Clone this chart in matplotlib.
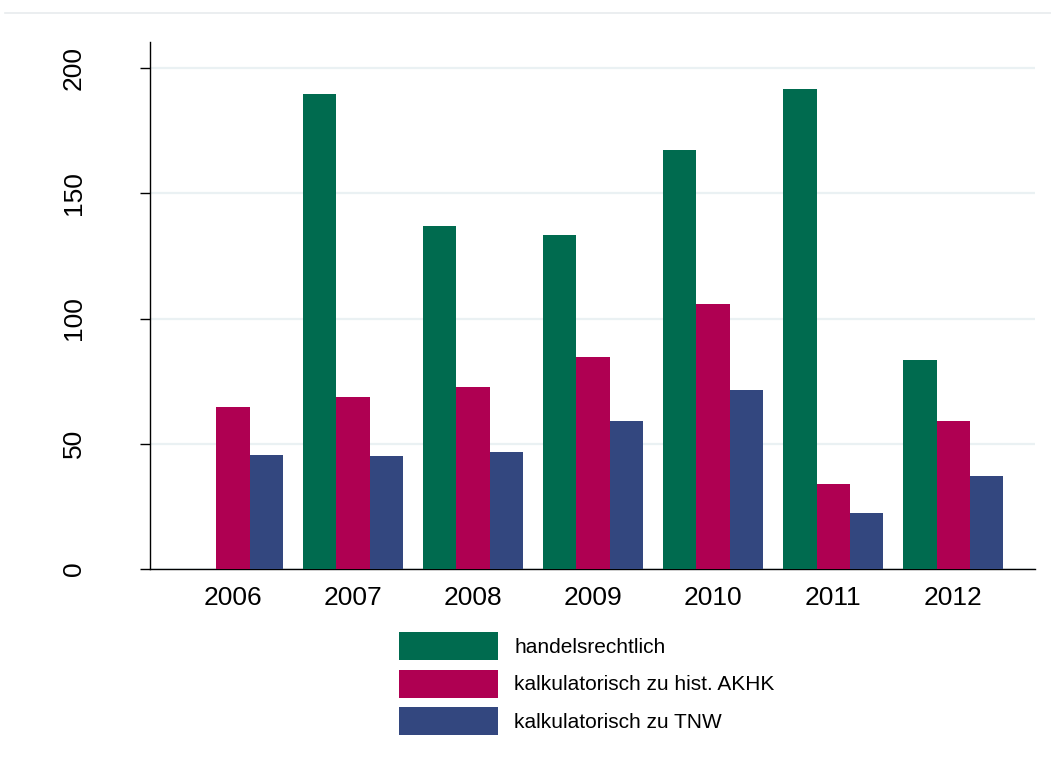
import numpy as np
import matplotlib.pyplot as plt
from matplotlib.lines import Line2D

plt.rcParams.update({
    "font.family": ["Liberation Sans", "DejaVu Sans"],
    "axes.linewidth": 1.0,
})

# Data
years = ["2006", "2007", "2008", "2009", "2010", "2011", "2012"]
handelsrechtlich = [np.nan, 189.5, 137.0, 133.3, 167.3, 191.5, 83.5]
kalk_akhk = [64.7, 68.7, 72.6, 84.6, 105.7, 33.8, 59.0]
kalk_tnw = [45.5, 45.1, 46.6, 59.0, 71.4, 22.3, 37.1]

labels = ["handelsrechtlich", "kalkulatorisch zu hist. AKHK", "kalkulatorisch zu TNW"]
colors = ["#006B4F", "#AF0052", "#33477F"]

fig = plt.figure(figsize=(10.51, 7.77), dpi=100)
ax = fig.add_axes([150 / 1051, 1 - 569 / 777, (1035 - 150) / 1051, (569 - 42) / 777])

x = np.arange(len(years))
w = 33.4 / 120
for i, (vals, lab, col) in enumerate(zip([handelsrechtlich, kalk_akhk, kalk_tnw], labels, colors)):
    ax.bar(x + (i - 1) * w, vals, width=w, color=col, label=lab, zorder=3, linewidth=0)

ax.set_xlim(-0.69, 6.68)
ax.set_ylim(0, 210.4)
ax.set_yticks([0, 50, 100, 150, 200])
ax.set_xticks(x)
ax.set_xticklabels(years)

ax.tick_params(axis="x", length=0, pad=12, labelsize=19)
ax.tick_params(axis="y", length=7, width=1, pad=39, labelsize=19)
for t in ax.get_yticklabels():
    t.set_rotation(90)
    t.set_va("center")

ax.grid(axis="y", color="#EAF1F3", linewidth=1.6, zorder=0)
ax.set_axisbelow(True)
for s in ["top", "right"]:
    ax.spines[s].set_visible(False)

# thin top border line
fig.add_artist(Line2D([5 / 1051, 1], [1 - 13 / 777, 1 - 13 / 777], color="#E8EBED", linewidth=1.2))

leg = ax.legend(
    loc="upper left",
    bbox_to_anchor=(399 / 1051, 1 - 632 / 777),
    bbox_transform=fig.transFigure,
    frameon=False,
    fontsize=15,
    handlelength=4.76,
    handleheight=1.7,
    handletextpad=0.76,
    labelspacing=0.45,
    borderpad=0,
    borderaxespad=0,
)

plt.savefig("out.png", dpi=100)
plt.close()
